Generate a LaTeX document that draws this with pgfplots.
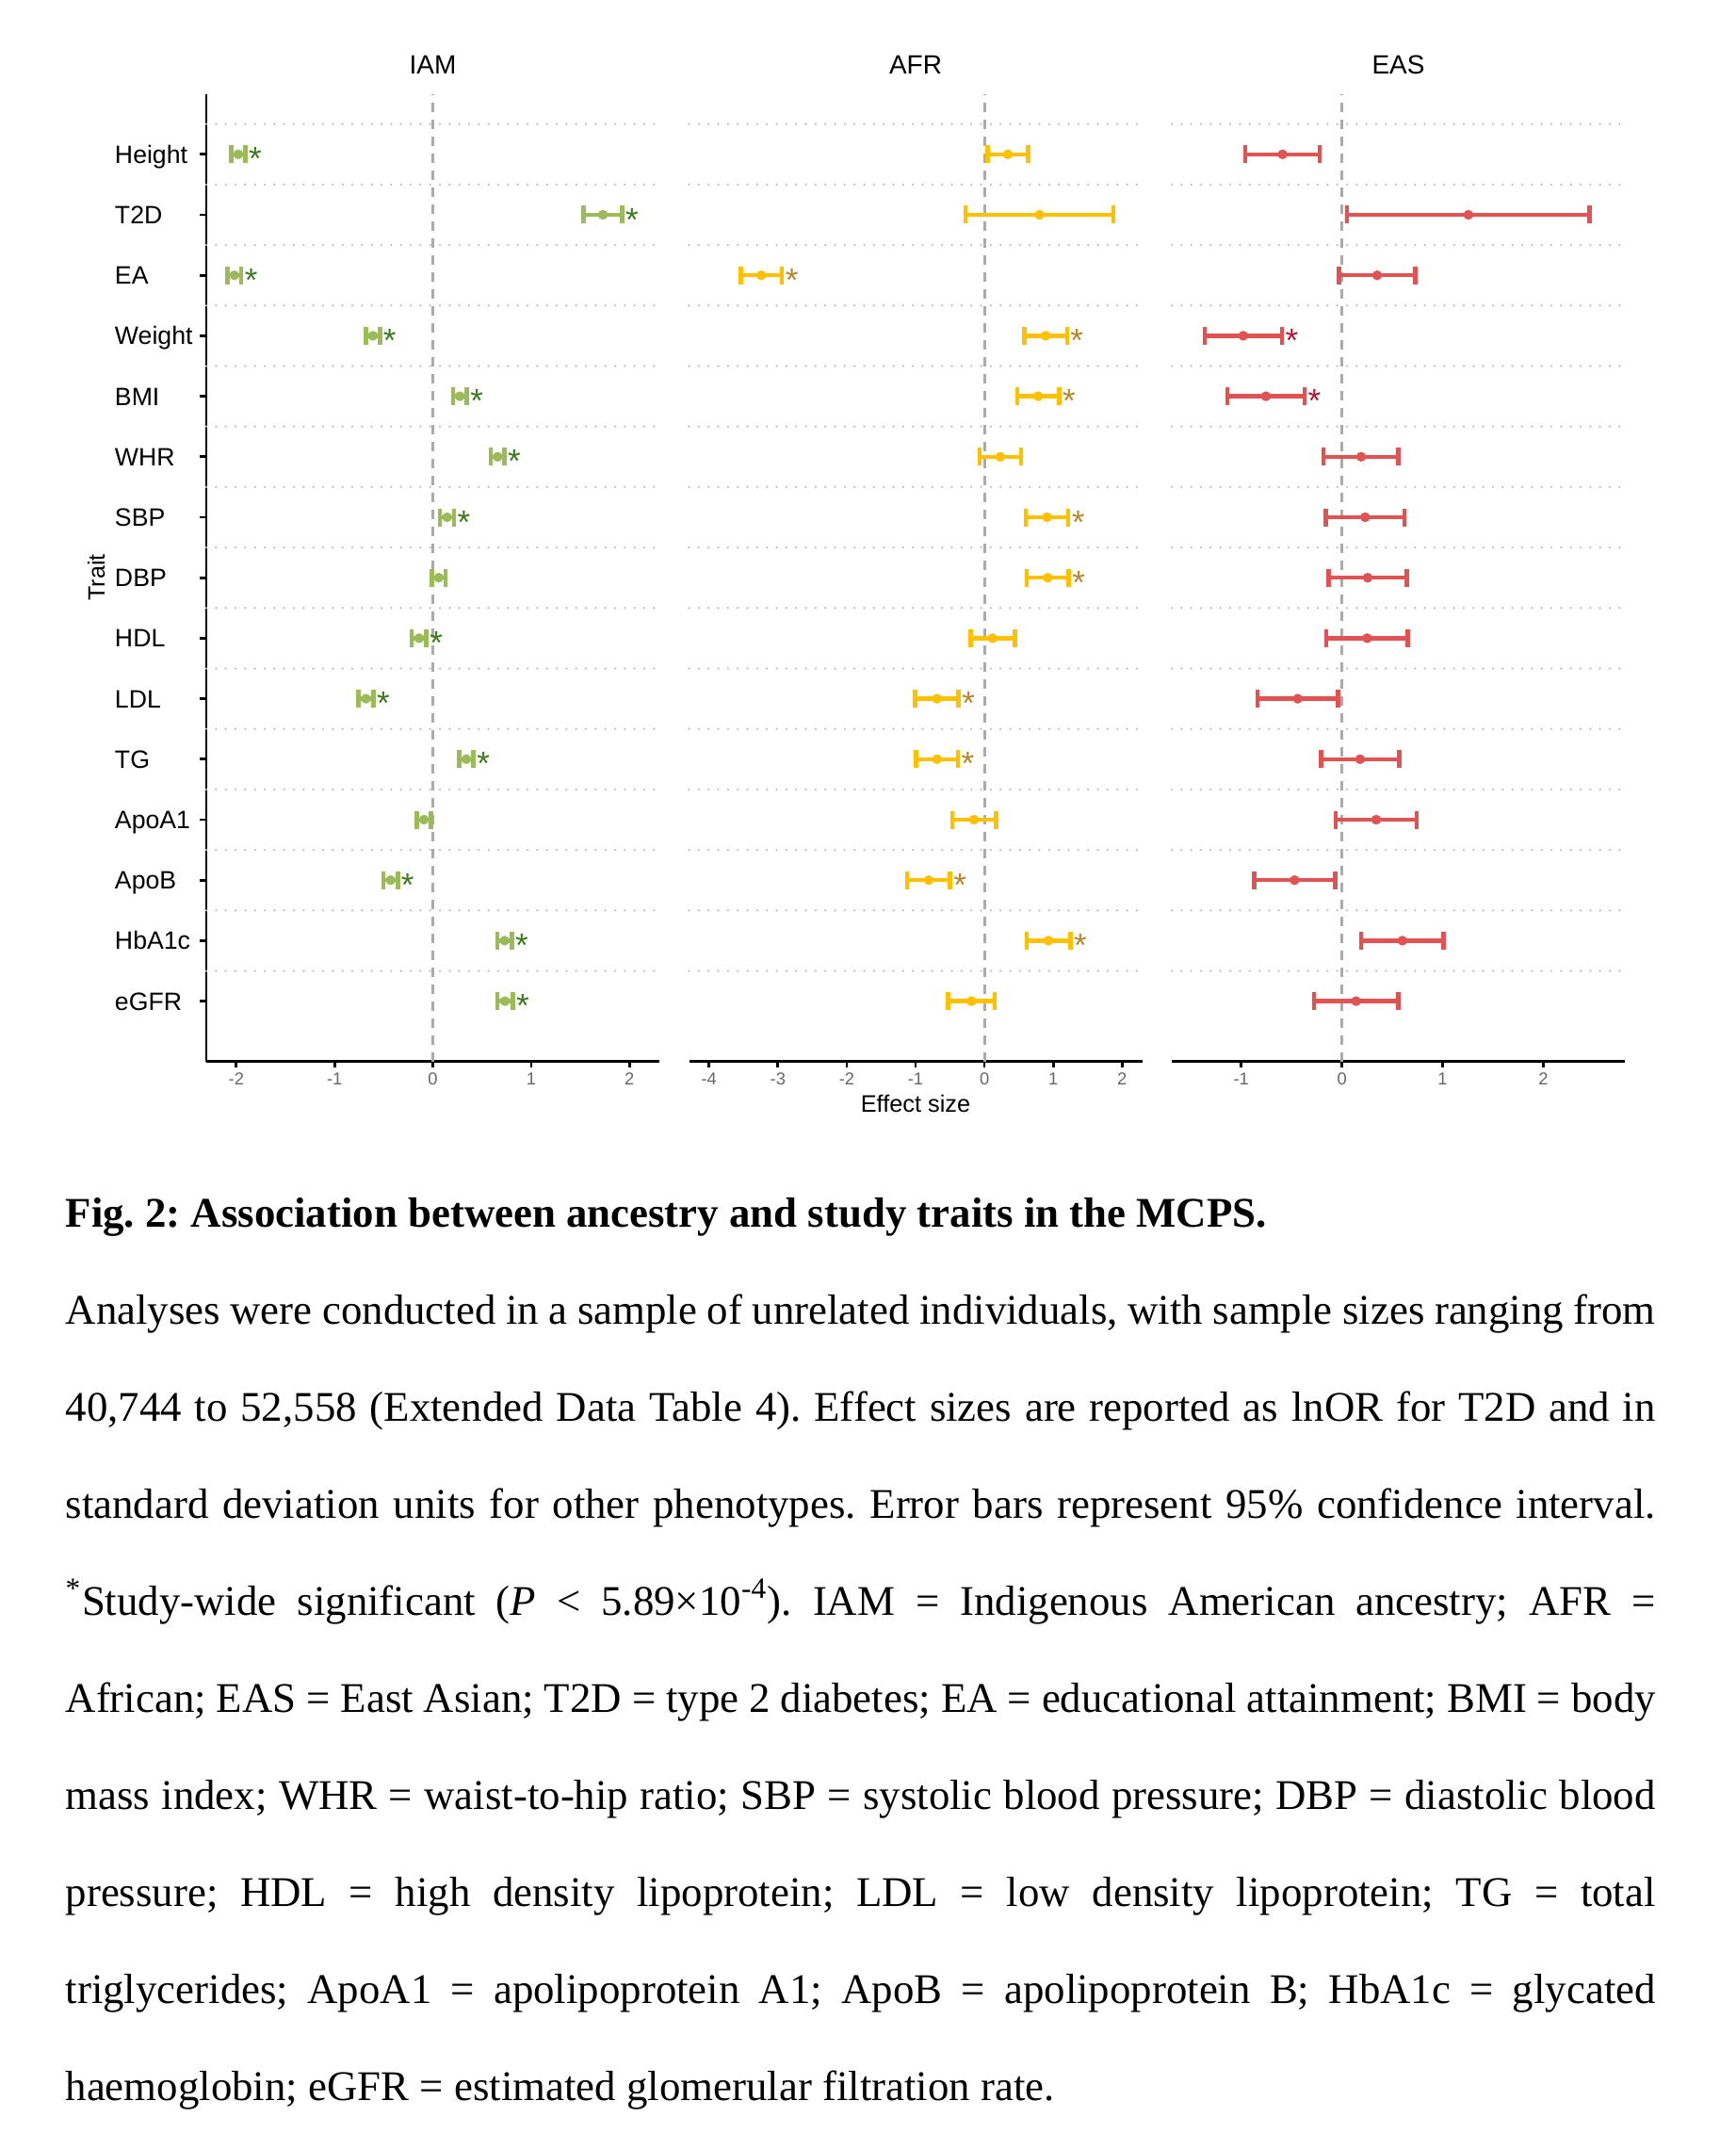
\documentclass[border=0pt]{standalone}
\usepackage{fontspec}
\setmainfont{Liberation Serif}
\newfontfamily\sansf{Liberation Sans}
\usepackage{pgfplots}
\usepackage{pgfplotstable}
\pgfplotsset{compat=1.18}
\frenchspacing

\definecolor{iamc}{HTML}{9BBB59}
\definecolor{iams}{HTML}{3B7A1F}
\definecolor{afrc}{HTML}{FFC000}
\definecolor{afrs}{HTML}{B8862B}
\definecolor{easc}{HTML}{E15252}
\definecolor{eass}{HTML}{B0163B}
\definecolor{gridc}{HTML}{BDBDBD}
\definecolor{zeroc}{HTML}{AAAAAA}
\definecolor{tickc}{HTML}{666666}

\pgfplotstableread{
y v e
15 -1.98 0.072
14 1.73 0.196
13 -2.02 0.071
12 -0.61 0.071
11 0.275 0.071
10 0.66 0.069
9 0.145 0.071
8 0.06 0.071
7 -0.14 0.075
6 -0.68 0.075
5 0.34 0.073
4 -0.09 0.073
3 -0.43 0.073
2 0.73 0.075
1 0.735 0.080
}\iamdata
\pgfplotstableread{
y x
15 -1.908
14 1.926
13 -1.949
12 -0.539
11 0.346
10 0.729
9 0.216
7 -0.065
6 -0.605
5 0.413
3 -0.357
2 0.805
1 0.815
}\iamstar
\pgfplotstableread{
y v e
15 0.34 0.296
14 0.80 1.072
13 -3.24 0.300
12 0.89 0.309
11 0.78 0.305
10 0.23 0.300
9 0.91 0.309
8 0.92 0.305
7 0.12 0.320
6 -0.69 0.314
5 -0.69 0.305
4 -0.15 0.318
3 -0.81 0.312
2 0.93 0.318
1 -0.19 0.337
}\afrdata
\pgfplotstableread{
y x
13 -2.94
12 1.199
11 1.085
9 1.219
8 1.225
6 -0.376
5 -0.385
3 -0.498
2 1.248
}\afrstar
\pgfplotstableread{
y v e
15 -0.59 0.369
14 1.255 1.206
13 0.35 0.379
12 -0.98 0.384
11 -0.755 0.384
10 0.19 0.372
9 0.23 0.389
8 0.255 0.388
7 0.25 0.404
6 -0.44 0.401
5 0.18 0.388
4 0.34 0.404
3 -0.47 0.403
2 0.60 0.411
1 0.14 0.418
}\easdata
\pgfplotstableread{
y x
12 -0.596
11 -0.371
}\easstar

\pgfplotsset{
 panel/.style={
  scale only axis, width=144.3pt, height=308.16pt,
  anchor=south west, ymin=0, ymax=16, clip=false,
  axis x line*=bottom, axis y line*=left,
  axis line style={black, line width=0.8pt},
  tick style={black, line width=0.8pt}, tick align=outside, major tick length=2pt,
  xticklabel style={font=\sansf\fontsize{5.5}{6}\selectfont, text=tickc, inner sep=0pt, anchor=north, yshift=-1.4pt},
  extra y ticks={1.5,2.5,...,15.5},
  extra y tick style={grid=major, major tick length=0pt, yticklabel={},
    major grid style={gridc, line width=0.75pt, dash pattern=on 0pt off 3.1pt, line cap=round}},
  extra x ticks={0},
  extra x tick style={grid=major, major tick length=0pt, xticklabel={},
    major grid style={zeroc, line width=0.85pt, dash pattern=on 2.8pt off 2.6pt}},
 },
 ebar/.style={only marks, mark=*, mark size=1.35pt, mark options={draw=none, fill=#1}, color=#1,
   error bars/.cd, x dir=both, x explicit,
   error bar style={line width=1.35pt, #1},
   error mark options={rotate=90, mark size=2.85pt, line width=1.35pt, #1}},
 stars/.style={only marks, mark=*, mark size=0pt, mark options={draw=none, fill=none},
   nodes near coords={*},
   every node near coord/.append style={anchor=base west, inner sep=0pt, xshift=0.9pt, yshift=-5.1pt,
     font=\sansf\fontsize{10.5}{10.5}\selectfont, text=#1}},
}

\begin{document}
\begin{tikzpicture}
\path[use as bounding box] (0,0) rectangle (552.6pt,-684.6pt);

% IAM
\begin{axis}[panel, at={(65.7pt,-338.04pt)},
  xmin=-2.305, xmax=2.305,
  xtick={-2,-1,0,1,2}, xticklabels={-2,-1,0,1,2},
  ytick={1,...,15},
  yticklabels={eGFR,HbA1c,ApoB,ApoA1,TG,LDL,HDL,DBP,SBP,WHR,BMI,Weight,EA,T2D,Height},
  yticklabel style={font=\sansf\fontsize{8}{9}\selectfont, text=black, anchor=west, inner sep=0pt,
    xshift=-27.3pt, text height=5.73pt, text depth=0pt},
]
\addplot[ebar=iamc] table[x=v, y=y, x error=e] {\iamdata};
\addplot[stars=iams] table[x=x, y=y] {\iamstar};
\end{axis}

% AFR
\begin{axis}[panel, at={(219.45pt,-338.04pt)},
  xmin=-4.29, xmax=2.29,
  xtick={-4,-3,-2,-1,0,1,2}, xticklabels={-4,-3,-2,-1,0,1,2},
  ytick=\empty, y axis line style={draw=none},
]
\addplot[ebar=afrc] table[x=v, y=y, x error=e] {\afrdata};
\addplot[stars=afrs] table[x=x, y=y] {\afrstar};
\end{axis}

% EAS
\begin{axis}[panel, at={(373.2pt,-338.04pt)},
  xmin=-1.69, xmax=2.81,
  xtick={-1,0,1,2}, xticklabels={-1,0,1,2},
  ytick=\empty, y axis line style={draw=none},
]
\addplot[ebar=easc] table[x=v, y=y, x error=e] {\easdata};
\addplot[stars=eass] table[x=x, y=y] {\easstar};
\end{axis}

\begin{scope}[every node/.style={inner sep=0pt}]
\node[anchor=base, font=\sansf\fontsize{8.4}{9}\selectfont] at (137.85pt,-23.55pt) {IAM};
\node[anchor=base, font=\sansf\fontsize{8.4}{9}\selectfont] at (291.6pt,-23.55pt) {AFR};
\node[anchor=base, font=\sansf\fontsize{8.4}{9}\selectfont] at (445.35pt,-23.55pt) {EAS};
\node[anchor=base, font=\sansf\fontsize{7.6}{8}\selectfont] at (291.6pt,-354pt) {Effect size};
\node[anchor=base, rotate=90, font=\sansf\fontsize{7.5}{8}\selectfont] at (33.3pt,-183.9pt) {Trait};

\node[anchor=base west, font=\fontsize{13.45}{15}\selectfont\bfseries] at (20.7pt,-390.6pt)
  {Fig. 2: Association between ancestry and study traits in the MCPS.};
\begin{scope}[every node/.append style={anchor=base west, font=\fontsize{13.45}{15}\selectfont}]
\node at (20.7pt,-421.5pt) {\hbox to 506.4pt{Analyses were conducted in a sample of unrelated individuals, with sample sizes ranging from}};
\node at (20.7pt,-452.43pt) {\hbox to 506.4pt{40,744 to 52,558 (Extended Data Table 4). Effect sizes are reported as lnOR for T2D and in}};
\node at (20.7pt,-483.36pt) {\hbox to 506.4pt{standard deviation units for other phenotypes. Error bars represent 95\% confidence interval.}};
\node at (20.7pt,-514.29pt) {\hbox to 506.4pt{\textsuperscript{*}Study-wide significant (\textit{P} < 5.89×10\textsuperscript{-4}). IAM = Indigenous American ancestry; AFR =}};
\node at (20.7pt,-545.22pt) {\hbox to 506.4pt{African; EAS = East Asian; T2D = type 2 diabetes; EA = educational attainment; BMI = body}};
\node at (20.7pt,-576.15pt) {\hbox to 506.4pt{mass index; WHR = waist-to-hip ratio; SBP = systolic blood pressure; DBP = diastolic blood}};
\node at (20.7pt,-607.08pt) {\hbox to 506.4pt{pressure; HDL = high density lipoprotein; LDL = low density lipoprotein; TG = total}};
\node at (20.7pt,-638.01pt) {\hbox to 506.4pt{triglycerides; ApoA1 = apolipoprotein A1; ApoB = apolipoprotein B; HbA1c = glycated}};
\node at (20.7pt,-668.94pt) {haemoglobin; eGFR = estimated glomerular filtration rate.};
\end{scope}
\end{scope}
\end{tikzpicture}
\end{document}
